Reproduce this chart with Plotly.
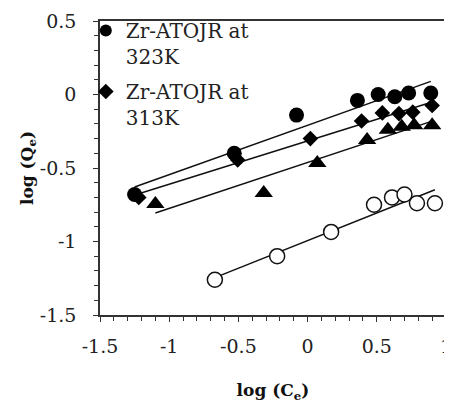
import numpy as np
import plotly.graph_objects as go

# ---- data ----
x_323 = [-1.25, -0.53, -0.08, 0.36, 0.51, 0.63, 0.73, 0.89]
y_323 = [-0.68, -0.40, -0.14, -0.04, 0.00, -0.015, 0.01, 0.01]

x_313 = [-1.22, -0.505, 0.02, 0.39, 0.54, 0.66, 0.76, 0.90]
y_313 = [-0.70, -0.446, -0.30, -0.18, -0.125, -0.13, -0.12, -0.075]

x_tri = [-1.10, -0.317, 0.07, 0.43, 0.58, 0.68, 0.77, 0.90]
y_tri = [-0.745, -0.67, -0.466, -0.31, -0.24, -0.22, -0.21, -0.21]

x_open = [-0.67, -0.22, 0.17, 0.48, 0.61, 0.70, 0.79, 0.92]
y_open = [-1.26, -1.10, -0.935, -0.75, -0.70, -0.68, -0.74, -0.74]

x_tickvals = [-1.5, -1, -0.5, 0, 0.5, 1]
x_ticktext = ["-1.5", "-1", "-0.5", "0", "0.5", "1"]
y_tickvals = [0.5, 0, -0.5, -1, -1.5]
y_ticktext = ["0.5", "0", "-0.5", "-1", "-1.5"]

name_323 = "Zr-ATOJR at<br>323K"
name_313 = "Zr-ATOJR at<br>313K"

FONT = "DejaVu Serif"

fig = go.Figure()


def trend(xs, ys):
    k, b = np.polyfit(xs, ys, 1)
    xe = np.array([min(xs), max(xs)])
    return xe, k * xe + b


# trend lines (drawn first, under the markers)
for xs, ys in [(x_323, y_323), (x_313, y_313), (x_tri, y_tri), (x_open, y_open)]:
    xe, ye = trend(xs, ys)
    fig.add_trace(go.Scatter(x=xe, y=ye, mode="lines",
                             line=dict(color="#111111", width=1.5),
                             showlegend=False, hoverinfo="skip"))

fig.add_trace(go.Scatter(x=x_tri, y=y_tri, mode="markers", showlegend=False,
                         marker=dict(symbol="triangle-up", size=16, color="black")))
fig.add_trace(go.Scatter(x=x_open, y=y_open, mode="markers", showlegend=False,
                         marker=dict(symbol="circle", size=15, color="white",
                                     line=dict(color="#111111", width=1.5))))
fig.add_trace(go.Scatter(x=x_323, y=y_323, mode="markers", name=name_323,
                         legendgroup="a",
                         marker=dict(symbol="circle", size=15, color="black")))
fig.add_trace(go.Scatter(x=x_313, y=y_313, mode="markers", name=name_313,
                         legendgroup="b",
                         marker=dict(symbol="diamond", size=12, color="black")))

axis_common = dict(
    showline=True, linecolor="#333333", linewidth=1.5, mirror=True,
    showgrid=False, zeroline=False,
    ticks="outside", ticklen=5, tickwidth=1.2, tickcolor="#333333",
    tickfont=dict(family=FONT, size=19, color="#222222"),
    ticklabeloverflow="allow",
    minor=dict(ticks="outside", ticklen=4, tickwidth=1.2, tickcolor="#333333", dtick=0.1),
)

fig.update_xaxes(range=[-1.5, 1], tickvals=x_tickvals, ticktext=x_ticktext,
                 ticklabelstandoff=8,
                 title=dict(text="<b>log (C<sub>e</sub>)</b>",
                            font=dict(family=FONT, size=17, color="#111111"),
                            standoff=29),
                 **axis_common)
fig.update_yaxes(range=[-1.5, 0.5], tickvals=y_tickvals, ticktext=y_ticktext,
                 ticklabelstandoff=13,
                 title=dict(text="<b>log (Q<sub>e</sub>)</b>",
                            font=dict(family=FONT, size=17, color="#111111"),
                            standoff=2),
                 **axis_common)

# the page body adds an 8px margin, so the figure is sized 8px smaller
fig.update_layout(
    width=444, height=397,
    margin=dict(l=92, r=5.5, t=13, b=90, autoexpand=False),
    paper_bgcolor="white", plot_bgcolor="white",
    legend=dict(x=-0.041, y=1.034, xanchor="left", yanchor="top",
                bgcolor="rgba(0,0,0,0)", valign="top",
                font=dict(family=FONT, size=20, color="#222222"),
                traceorder="grouped", itemsizing="constant",
                tracegroupgap=6),
    showlegend=True,
)

fig.write_html("out.html")
